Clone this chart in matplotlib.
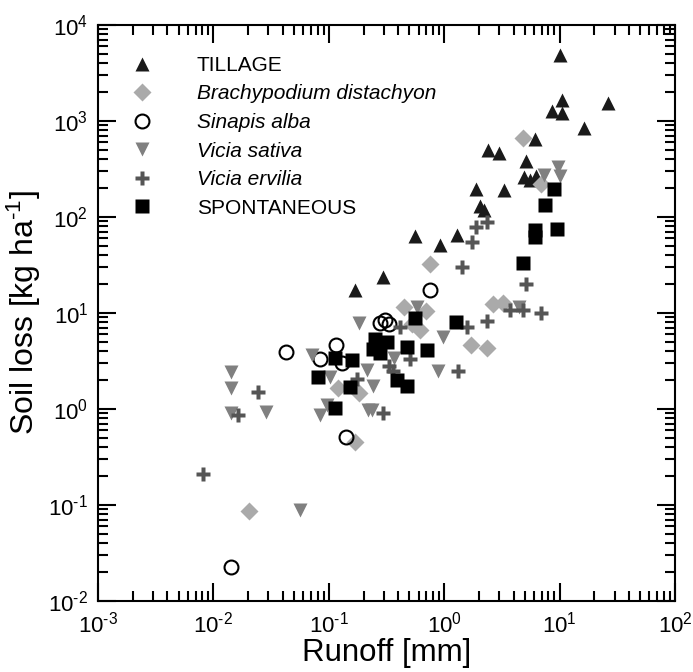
import matplotlib
matplotlib.use("Agg")
import numpy as np
import matplotlib.pyplot as plt
from matplotlib.ticker import LogLocator, NullFormatter, FuncFormatter

plt.rcParams["font.family"] = ["Liberation Sans", "DejaVu Sans"]
plt.rcParams["mathtext.fontset"] = "custom"
plt.rcParams["mathtext.rm"] = "Liberation Sans"
plt.rcParams["mathtext.it"] = "Liberation Sans:italic"
plt.rcParams["mathtext.default"] = "regular"
plt.rcParams["axes.unicode_minus"] = False

# runoff [mm] and soil loss [kg/ha] per treatment
tillage_x = [10.1, 10.5, 8.6, 10.5, 26.3, 16.2, 6.1, 2.4, 3.0, 5.1, 4.9, 5.5, 6.3,
             1.9, 3.3, 2.04, 2.2, 1.29, 0.92, 0.56, 0.295, 0.169]
tillage_y = [4900, 1660, 1260, 1200, 1550, 850, 650, 500, 465, 380, 262, 243, 270,
             195, 190, 129, 117, 65, 51, 63, 23.7, 17.4]

brachy_x = [4.8, 6.9, 0.75, 0.45, 0.70, 2.65, 3.24, 1.71, 2.35, 0.53, 0.62,
            0.12, 0.183, 0.169, 0.0204]
brachy_y = [660, 223, 32.3, 11.5, 10.5, 12.4, 12.6, 4.6, 4.3, 7.7, 6.7,
            1.66, 1.47, 0.45, 0.087]

sinapis_x = [0.0141, 0.141, 0.0426, 0.084, 0.115, 0.13, 0.753, 0.28, 0.31, 0.33]
sinapis_y = [0.0226, 0.51, 3.9, 3.3, 4.6, 3.0, 17.4, 7.8, 8.4, 7.6]

sativa_x = [9.7, 10.0, 7.3, 0.58, 0.98, 0.88, 4.45, 0.367, 0.241, 0.237, 0.183,
            0.0714, 0.102, 0.214, 0.084, 0.096, 0.219, 0.0142, 0.0142, 0.0142,
            0.0286, 0.056]
sativa_y = [330, 270, 275, 11.5, 5.6, 2.49, 11.5, 3.4, 1.74, 0.98, 7.9,
            3.65, 2.15, 2.55, 0.87, 1.10, 0.98, 2.43, 1.66, 0.91,
            0.93, 0.089]

ervilia_x = [2.35, 1.89, 1.74, 1.43, 5.1, 3.7, 4.8, 6.9, 2.35, 1.58, 1.32, 0.41,
             0.51, 0.33, 0.36, 0.295, 0.175, 0.0244, 0.0163, 0.0081]
ervilia_y = [88.7, 78.7, 55, 30, 20, 10.7, 10.7, 10, 8.3, 7.1, 2.5, 7.1,
             3.3, 2.8, 2.5, 0.91, 2.05, 1.5, 0.87, 0.21]

spont_x = [8.9, 7.5, 9.5, 6.1, 6.1, 4.8, 1.26, 0.71, 0.56, 0.48, 0.262, 0.32, 0.39,
           0.48, 0.081, 0.113, 0.158, 0.153, 0.113, 0.24, 0.28, 0.25]
spont_y = [195, 133, 75, 73, 62, 33, 8.1, 4.1, 8.9, 4.4, 4.9, 5.0, 2.0,
           1.74, 2.15, 3.4, 3.24, 1.69, 1.02, 4.2, 3.8, 5.3]


def pow10(v, pos):
    return r"$10^{\text{%d}}$" % int(round(np.log10(v)))


fig = plt.figure(figsize=(6.93, 6.72), dpi=100)
ax = fig.add_axes([0.1414, 0.1057, 0.8326, 0.8571])

ax.plot(tillage_x, tillage_y, "^", ms=9.5, color="#1a1a1a", mec="none", ls="none",
        label="TILLAGE")
ax.plot(brachy_x, brachy_y, "D", ms=9, color="#aaaaaa", mec="none", ls="none",
        label="Brachypodium distachyon")
ax.plot(sinapis_x, sinapis_y, "o", ms=10, mfc="none", mec="black", mew=1.5, ls="none",
        label="Sinapis alba")
ax.plot(sativa_x, sativa_y, "v", ms=9.5, color="#808080", mec="none", ls="none",
        label="Vicia sativa")
ax.plot(ervilia_x, ervilia_y, "P", ms=10, color="#555555", mec="none", ls="none",
        label="Vicia ervilia")
ax.plot(spont_x, spont_y, "s", ms=10, color="black", mec="none", ls="none",
        label="SPONTANEOUS")

ax.set_xscale("log")
ax.set_yscale("log")
ax.set_xlim(1e-3, 1e2)
ax.set_ylim(1e-2, 1e4)
for axis in (ax.xaxis, ax.yaxis):
    axis.set_major_locator(LogLocator(base=10, numticks=10))
    axis.set_minor_locator(LogLocator(base=10, subs=range(2, 10), numticks=20))
    axis.set_major_formatter(FuncFormatter(pow10))
    axis.set_minor_formatter(NullFormatter())

ax.tick_params(which="both", direction="in", top=True, right=True, width=1.5,
               labelsize=16)
ax.tick_params(which="major", length=13)
ax.tick_params(which="minor", length=7.5)
ax.tick_params(axis="x", which="major", pad=8)
ax.tick_params(axis="y", which="major", pad=7)
for s in ax.spines.values():
    s.set_linewidth(1.5)

ax.set_xlabel("Runoff [mm]", fontsize=22.5, labelpad=0)
ax.set_ylabel(r"Soil loss [kg ha$^{\text{-1}}$]", fontsize=23, labelpad=4)

leg = ax.legend(loc="upper left", bbox_to_anchor=(0.040, 0.961), frameon=False,
                fontsize=15, handlelength=1.2, handletextpad=2.04,
                labelspacing=0.46, borderaxespad=0)
for t in leg.get_texts()[1:5]:
    t.set_style("italic")

fig.savefig("out.png", dpi=100)
